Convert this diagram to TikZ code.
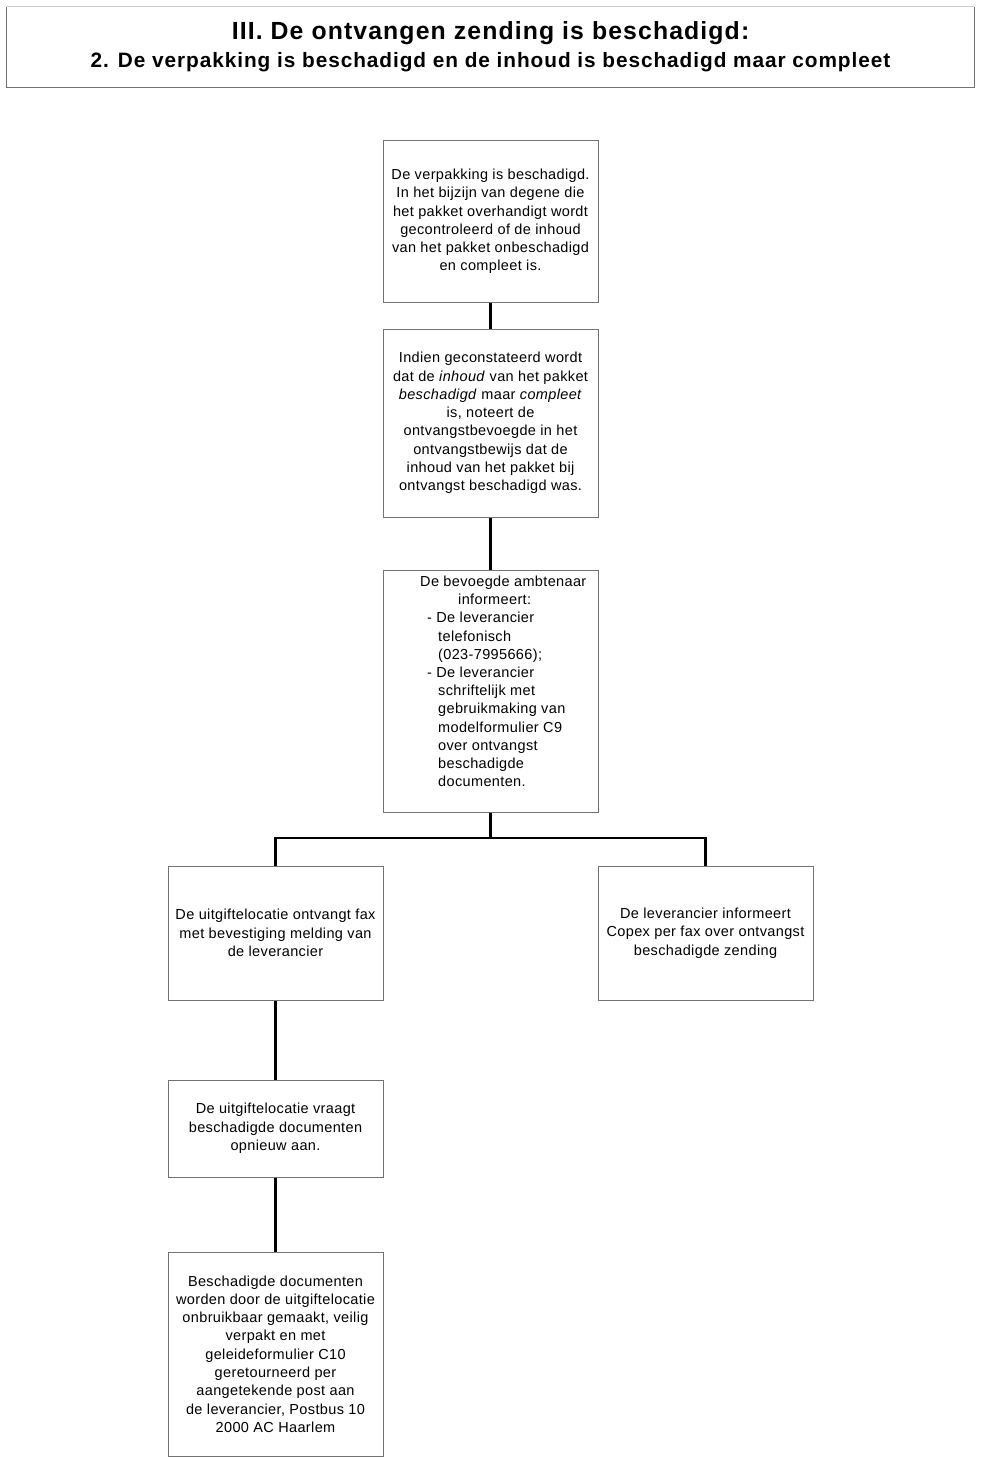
\documentclass[tikz,border=0pt]{standalone}
\usepackage{fontspec}
\setmainfont{Liberation Sans}
\newfontfamily\bodyfont[LetterSpace=2.5]{Liberation Sans}
\newfontfamily\titlefont[LetterSpace=4.5]{Liberation Sans}
\begin{document}
\begin{tikzpicture}[x=1pt,y=-1pt]
\tikzset{
  box/.style={draw=black!55, line width=1pt, rectangle, align=center, inner sep=0pt,
    minimum width=215pt, font=\bodyfont\fontsize{14.5}{18.3}\selectfont},
  boxtext/.style={align=left, inner sep=0pt, font=\bodyfont\fontsize{14.5}{18.2}\selectfont},
  link/.style={line width=2.2pt, black},
}
\useasboundingbox (0,0) rectangle (982,1463);
\fill[white] (0,0) rectangle (982,1463);

% title
\node[draw=none, minimum width=967pt, minimum height=80pt, inner sep=0pt] (title) at (490.5,47) {};
\draw[black!20, line width=1pt] (title.north west) -- (title.north east);
\draw[black!55, line width=1pt] (title.north west) -- (title.south west) -- (title.south east) -- (title.north east);
\node[font=\titlefont\fontsize{24.8}{26}\selectfont\bfseries, inner sep=0pt] (t1) at (490.5,33) {III. De ontvangen zending is beschadigd:};
\node[font=\titlefont\fontsize{20.8}{22}\selectfont\bfseries, inner sep=0pt] (t2) at (490.5,62) {2. De verpakking is beschadigd en de inhoud is beschadigd maar compleet};

% boxes
\node[box, minimum height=161pt] (b1) at (490.5,221.5) {De verpakking is beschadigd.\\In het bijzijn van degene die\\het pakket overhandigt wordt\\gecontroleerd of de inhoud\\van het pakket onbeschadigd\\en compleet is.};
\node[box, minimum height=188pt] (b2) at (490.5,423) {Indien geconstateerd wordt\\dat de \textit{inhoud} van het pakket\\\textit{beschadigd} maar \textit{compleet}\\is, noteert de\\ontvangstbevoegde in het\\ontvangstbewijs dat de\\inhoud van het pakket bij\\ontvangst beschadigd was.};
\node[box, minimum height=242pt] (b3) at (490.5,691) {};
\node[boxtext, anchor=west] (t3) at (420,681.5) {De bevoegde ambtenaar\\
\hspace*{38pt}informeert:\\
\hspace*{7pt}- De leverancier\\
\hspace*{18pt}telefonisch\\
\hspace*{18pt}(023-7995666);\\
\hspace*{7pt}- De leverancier\\
\hspace*{18pt}schriftelijk met\\
\hspace*{18pt}gebruikmaking van\\
\hspace*{18pt}modelformulier C9\\
\hspace*{18pt}over ontvangst\\
\hspace*{18pt}beschadigde\\
\hspace*{18pt}documenten.};
\node[box, minimum height=134pt] (b4) at (275.5,933) {De uitgiftelocatie ontvangt fax\\met bevestiging melding van\\de leverancier};
\node[box, minimum height=134pt] (b5) at (705.5,933) {De leverancier informeert\\Copex per fax over ontvangst\\beschadigde zending};
\node[box, minimum height=97pt] (b6) at (275.5,1128.5) {De uitgiftelocatie vraagt\\beschadigde documenten\\opnieuw aan.};
\node[box, minimum height=204pt] (b7) at (275.5,1354) {Beschadigde documenten\\worden door de uitgiftelocatie\\onbruikbaar gemaakt, veilig\\verpakt en met\\geleideformulier C10\\geretourneerd per\\aangetekende post aan\\de leverancier, Postbus 10\\2000 AC Haarlem};

% connectors
\coordinate (j) at (490.5,838);
\draw[link] (b1.south) -- (b2.north);
\draw[link] (b2.south) -- (b3.north);
\draw[link] (b3.south) -- (j);
\draw[link] (j) -| (b4.north);
\draw[link] (j) -| (b5.north);
\draw[link] (b4.south) -- (b6.north);
\draw[link] (b6.south) -- (b7.north);
\end{tikzpicture}
\end{document}
